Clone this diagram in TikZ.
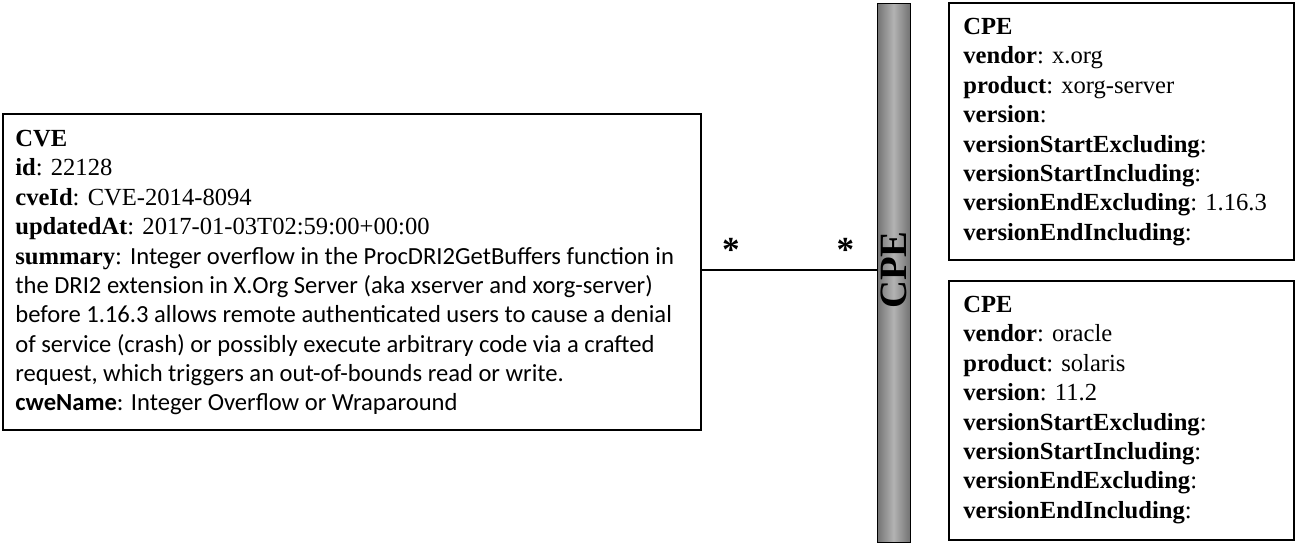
\documentclass[tikz,border=0pt]{standalone}
\usepackage{fontspec}
\setmainfont{Liberation Serif}
\newfontfamily\calib{Carlito}
\usetikzlibrary{positioning,calc}

\tikzset{
  entity/.style={align=left,anchor=north west,inner sep=0pt,
    font=\fontsize{14}{16.7}\selectfont},
  mult/.style={above=1pt,font=\fontsize{20}{20}\selectfont\bfseries},
}

\begin{document}
\begin{tikzpicture}[x=0.02cm,y=-0.02cm]
            \useasboundingbox (0,0) rectangle (1304,542);
            % CVE entity
            \draw[thick] (3,114) rectangle (701,430);
            \node[entity] (cve) at (15,130) {\textbf{CVE}\\
                \textbf{id}: 22128\\
                \textbf{cveId}: CVE-2014-8094\\
                \textbf{updatedAt}: 2017-01-03T02:59:00+00:00\\
                \textbf{summary}: {\calib Integer overflow in the ProcDRI2GetBuffers function in}\\
                {\calib the DRI2 extension in X.Org Server (aka xserver and xorg-server)}\\
                {\calib before 1.16.3 allows remote authenticated users to cause a denial}\\
                {\calib of service (crash) or possibly execute arbitrary code via a crafted}\\
                {\calib request, which triggers an out-of-bounds read or write.}\\
                {\calib\textbf{cweName}: Integer Overflow or Wraparound}};
            % CPE bar
            \shade[left color=gray!90!black,right color=gray!90!black,middle color=gray!60] (877,3) rectangle (910,542);
            \draw (877,3) rectangle (910,542);
            \node[rotate=90,font=\fontsize{22}{22}\selectfont\bfseries] (bar) at (893.5,270) {CPE};
            \coordinate (cvee) at (701,270);
            \coordinate (bare) at (877,270);
            \draw[thick] (cvee) -- (bare)
                node[pos=0.17,mult] {*}
                node[pos=0.82,mult] {*};
            % CPE entities
            \draw[thick] (949,3) rectangle (1294,260);
            \node[entity] (cpea) at (963,18) {\textbf{CPE}\\
                \textbf{vendor}: x.org\\
                \textbf{product}: xorg-server\\
                \textbf{version}:\\
                \textbf{versionStartExcluding}:\\
                \textbf{versionStartIncluding}:\\
                \textbf{versionEndExcluding}: 1.16.3\\
                \textbf{versionEndIncluding}:};
            \draw[thick] (949,281) rectangle (1294,540);
            \node[entity] (cpeb) at (963,296) {\textbf{CPE}\\
                \textbf{vendor}: oracle\\
                \textbf{product}: solaris\\
                \textbf{version}: 11.2\\
                \textbf{versionStartExcluding}:\\
                \textbf{versionStartIncluding}:\\
                \textbf{versionEndExcluding}:\\
                \textbf{versionEndIncluding}:};
\end{tikzpicture}
\end{document}
